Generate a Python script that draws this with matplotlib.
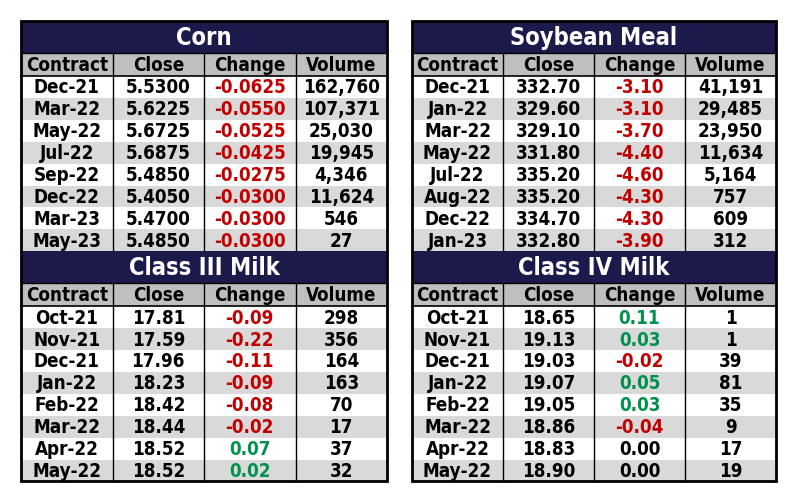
import matplotlib.pyplot as plt
from matplotlib import font_manager
from matplotlib.patches import Rectangle

# ---- data ----
headers = ["Contract", "Close", "Change", "Volume"]

corn_contracts = ["Dec-21", "Mar-22", "May-22", "Jul-22", "Sep-22", "Dec-22", "Mar-23", "May-23"]
corn_close = ["5.5300", "5.6225", "5.6725", "5.6875", "5.4850", "5.4050", "5.4700", "5.4850"]
corn_change = ["-0.0625", "-0.0550", "-0.0525", "-0.0425", "-0.0275", "-0.0300", "-0.0300", "-0.0300"]
corn_volume = ["162,760", "107,371", "25,030", "19,945", "4,346", "11,624", "546", "27"]

soy_contracts = ["Dec-21", "Jan-22", "Mar-22", "May-22", "Jul-22", "Aug-22", "Dec-22", "Jan-23"]
soy_close = ["332.70", "329.60", "329.10", "331.80", "335.20", "335.20", "334.70", "332.80"]
soy_change = ["-3.10", "-3.10", "-3.70", "-4.40", "-4.60", "-4.30", "-4.30", "-3.90"]
soy_volume = ["41,191", "29,485", "23,950", "11,634", "5,164", "757", "609", "312"]

m3_contracts = ["Oct-21", "Nov-21", "Dec-21", "Jan-22", "Feb-22", "Mar-22", "Apr-22", "May-22"]
m3_close = ["17.81", "17.59", "17.96", "18.23", "18.42", "18.44", "18.52", "18.52"]
m3_change = ["-0.09", "-0.22", "-0.11", "-0.09", "-0.08", "-0.02", "0.07", "0.02"]
m3_volume = ["298", "356", "164", "163", "70", "17", "37", "32"]

m4_contracts = ["Oct-21", "Nov-21", "Dec-21", "Jan-22", "Feb-22", "Mar-22", "Apr-22", "May-22"]
m4_close = ["18.65", "19.13", "19.03", "19.07", "19.05", "18.86", "18.83", "18.90"]
m4_change = ["0.11", "0.03", "-0.02", "0.05", "0.03", "-0.04", "0.00", "0.00"]
m4_volume = ["1", "1", "39", "81", "35", "9", "17", "19"]

NAVY = "#1b1a4a"
HEAD_GRAY = "#bfbfbf"
ROW_GRAY = "#d9d9d9"
RED = "#c00000"
GREEN = "#00914f"

# look for a narrow / condensed bold face, otherwise fall back to DejaVu
condensed = [f for f in font_manager.fontManager.ttflist
             if ("Narrow" in f.name or "Condensed" in f.name
                 or f.stretch in ("condensed", "semi-condensed", "extra-condensed"))]
if condensed:
    pick = condensed[0]
    FONT = font_manager.FontProperties(family=pick.name, stretch=pick.stretch, weight="bold")
    NARROW = True
else:
    FONT = font_manager.FontProperties(family="DejaVu Sans", weight="bold")
    NARROW = False
scale = 1.0 if NARROW else 0.8

fig = plt.figure(figsize=(8, 5.03), dpi=100)
ax = fig.add_axes([0, 0, 1, 1])
ax.set_xlim(0, 800)
ax.set_ylim(503, 0)
ax.axis("off")


def change_color(s):
    v = float(s)
    if v < 0:
        return RED
    if v > 0:
        return GREEN
    return "black"


def put(x, y, s, size, color="black"):
    fp = FONT.copy()
    fp.set_size(size * scale)
    ax.text(x, y, s, ha="center", va="center", color=color, fontproperties=fp)


def draw_block(x0, y0, width, title, contracts, close, change, volume,
               title_h=32, head_h=23, row_h=21.9):
    colw = width / 4
    ax.add_patch(Rectangle((x0, y0), width, title_h, facecolor=NAVY, edgecolor="none"))
    put(x0 + width / 2, y0 + title_h / 2 + 1, title, 17)
    ax.texts[-1].set_color("white")
    y = y0 + title_h
    ax.add_patch(Rectangle((x0, y), width, head_h, facecolor=HEAD_GRAY, edgecolor="none"))
    for j, h in enumerate(headers):
        put(x0 + colw * (j + 0.5), y + head_h / 2 + 1, h, 13.5)
    ax.plot([x0, x0 + width], [y, y], color="black", lw=1)
    ax.plot([x0, x0 + width], [y + head_h, y + head_h], color="black", lw=1.2)
    y += head_h
    for i in range(len(contracts)):
        ry = y + i * row_h
        fc = "white" if i % 2 == 0 else ROW_GRAY
        ax.add_patch(Rectangle((x0, ry), width, row_h, facecolor=fc, edgecolor="none"))
        vals = [contracts[i], close[i], change[i], volume[i]]
        for j, v in enumerate(vals):
            col = change_color(v) if j == 2 else "black"
            put(x0 + colw * (j + 0.5), ry + row_h / 2 + 1, v, 13.5, col)
    y_end = y + len(contracts) * row_h
    for j in range(1, 4):
        ax.plot([x0 + colw * j] * 2, [y0 + title_h, y_end], color="black", lw=1)
    return y_end


def draw_panel(x0, width, blocks):
    y = 21
    for b in blocks:
        y = draw_block(x0, y, width, *b)
    ax.add_patch(Rectangle((x0, 21), width, y - 21, facecolor="none",
                           edgecolor="black", lw=2))


draw_panel(21, 366, [("Corn", corn_contracts, corn_close, corn_change, corn_volume),
                     ("Class III Milk", m3_contracts, m3_close, m3_change, m3_volume)])
draw_panel(412, 364, [("Soybean Meal", soy_contracts, soy_close, soy_change, soy_volume),
                      ("Class IV Milk", m4_contracts, m4_close, m4_change, m4_volume)])

fig.savefig("out.png", dpi=100)
